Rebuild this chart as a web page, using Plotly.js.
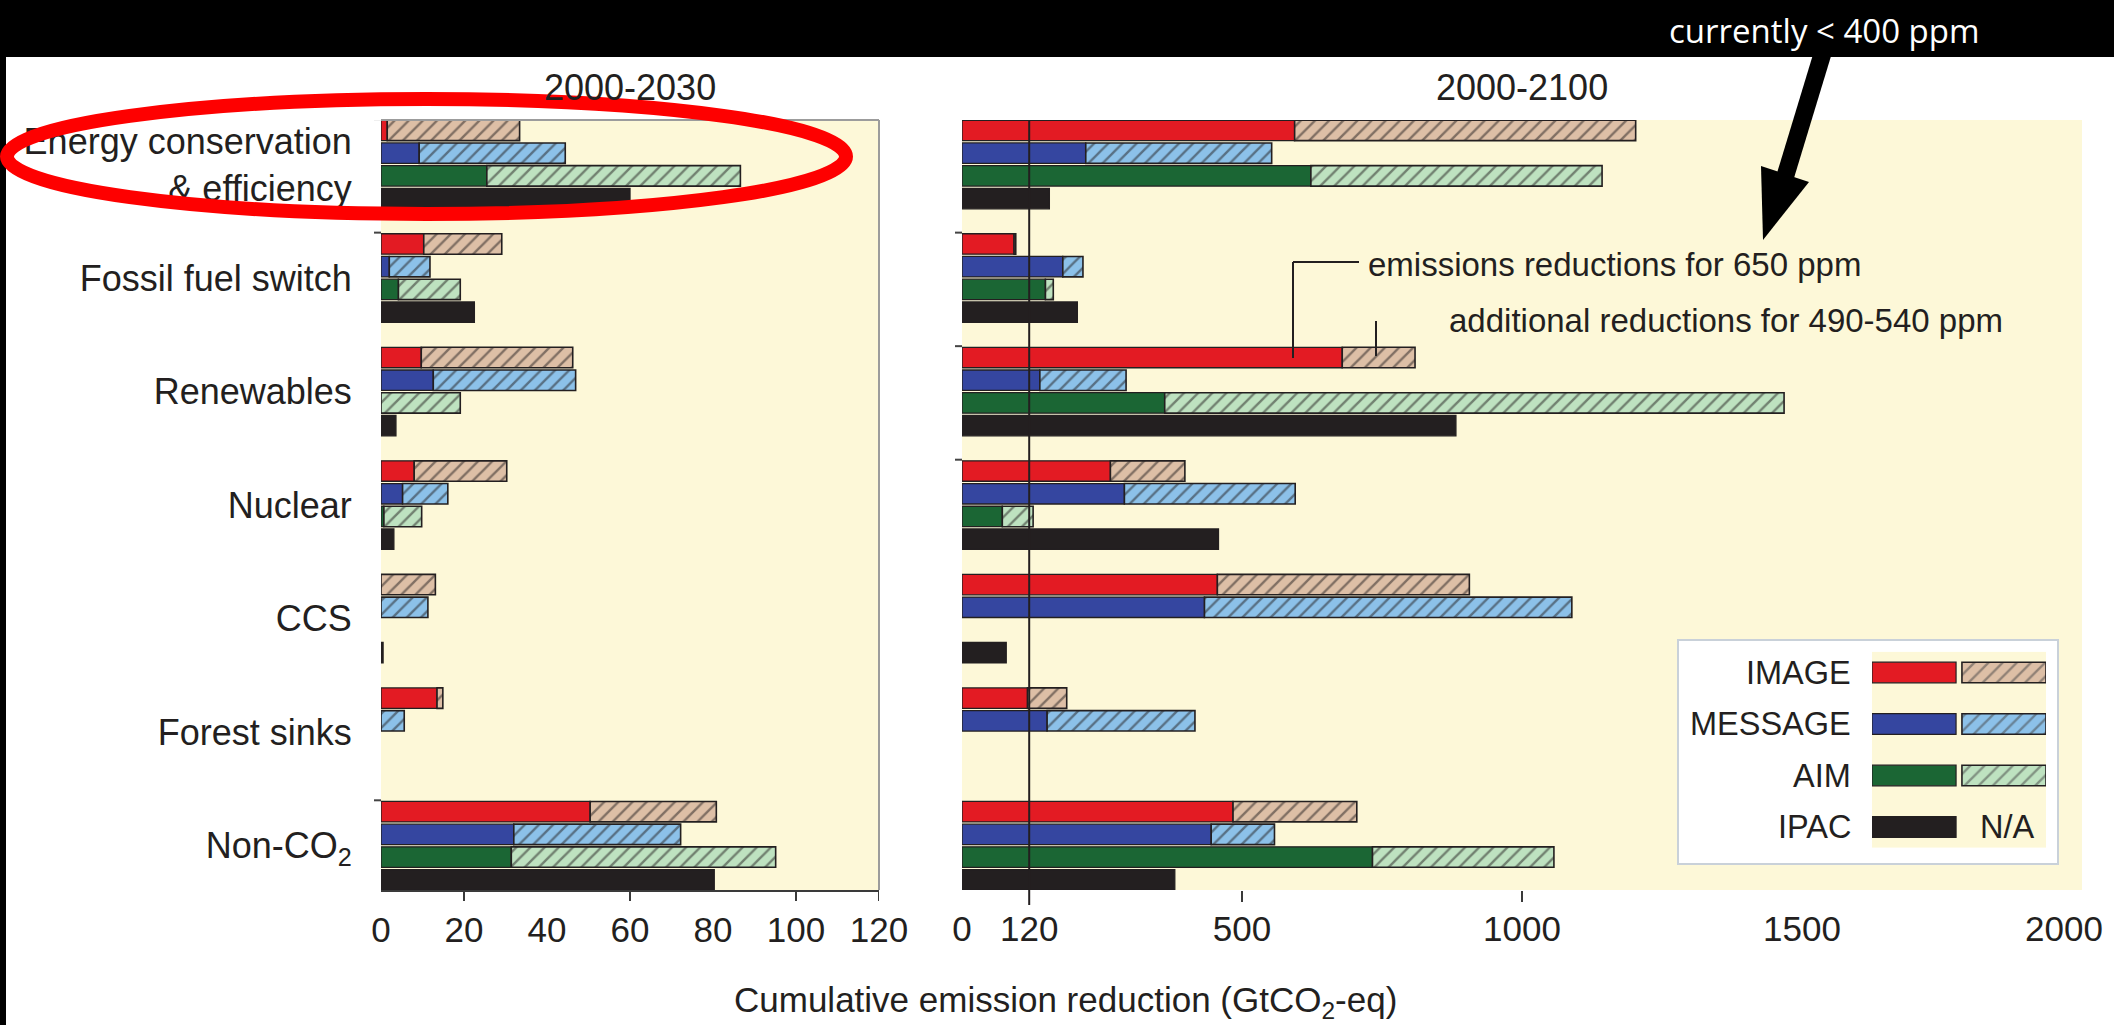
<!DOCTYPE html>
<html><head><meta charset="utf-8">
<script src="https://cdn.plot.ly/plotly-3.0.1.min.js"></script>
<style>html,body{margin:0;padding:0;background:#fff;overflow:hidden}#chart{width:2114px;height:1025px}</style>
</head><body><div id="chart"></div><script>
// ---------------- data ----------------
const categories = ['Energy conservation<br>& efficiency', 'Fossil fuel switch', 'Renewables', 'Nuclear', 'CCS', 'Forest sinks', 'Non-CO<sub>2</sub>'];
const models = ['IMAGE', 'MESSAGE', 'AIM', 'IPAC'];
const panelTitles = ['2000-2030', '2000-2100'];

// 2000-2030: reductions for 650 ppm (solid) and additional reductions for 490-540 ppm (hatched)
const image650_2030   = [1.5, 10.3, 9.7, 8.0, null, 13.5, 50.4];
const image490_2030   = [31.9, 18.8, 36.5, 22.3, 13.1, 1.4, 30.4];
const message650_2030 = [9.2, 2.0, 12.6, 5.2, null, null, 32.0];
const message490_2030 = [35.2, 9.8, 34.3, 10.9, 11.3, 5.6, 40.2];
const aim650_2030     = [25.5, 4.2, null, 0.7, null, null, 31.4];
const aim490_2030     = [61.1, 14.9, 19.1, 9.1, null, null, 63.7];
const ipac650_2030    = [60.0, 22.5, 3.6, 3.1, 0.5, null, 80.3];

// 2000-2100
const image650_2100   = [594, 93, 679, 265, 456, 117, 484];
const image490_2100   = [609, 3, 130, 133, 450, 70, 221];
const message650_2100 = [221, 180, 139, 290, 433, 152, 445];
const message490_2100 = [332, 36, 154, 305, 656, 264, 113];
const aim650_2100     = [623, 149, 362, 72, null, null, 733];
const aim490_2100     = [520, 14, 1106, 55, null, null, 324];
const ipac650_2100    = [156, 206, 882, 458, 79, null, 380];

const ticks2030 = [0, 20, 40, 60, 80, 100, 120];
const tickMarks2030 = [20, 60, 100, 120];
const ticks2100 = [0, 120, 500, 1000, 1500, 2000];
const tickMarks2100 = [500, 1000];
const threshold2100 = 120;

const xTitle = 'Cumulative emission reduction (GtCO<sub>2</sub>-eq)';
const note650 = 'emissions reductions for 650 ppm';
const note490 = 'additional reductions for 490-540 ppm';
const noteTop = 'currently &lt; 400 ppm';

// ---------------- styles ----------------
const W = 2114, H = 1025;
const px = x => x / W, py = y => 1 - y / H;
const FONT = 'Liberation Sans, Arial, Helvetica, sans-serif';
const INK = '#231F20';
const solidColors = ['#E31B23', '#3546A0', '#1B6634', '#231F20'];
const hatchColors = ['#DDBFA6', '#8CC1E9', '#BEE2C0', null];
const GROUP = 5;
const yRange = [33.45, -0.46];
const yDomain = [py(890), py(120)];

const solid2030 = [image650_2030, message650_2030, aim650_2030, ipac650_2030];
const hatch2030 = [image490_2030, message490_2030, aim490_2030, null];
const solid2100 = [image650_2100, message650_2100, aim650_2100, ipac650_2100];
const hatch2100 = [image490_2100, message490_2100, aim490_2100, null];

function yPos(m) { return categories.map((_, g) => g * GROUP + m); }
function pattern() { return {shape: '/', fillmode: 'overlay', fgcolor: INK, size: 10, solidity: 0.24}; }

const traces = [];
function addPanel(solids, hatches, xa, ya) {
  models.forEach((name, m) => {
    traces.push({type: 'bar', orientation: 'h', name: name, x: solids[m], y: yPos(m), base: 0,
      width: 0.9, xaxis: xa, yaxis: ya, hoverinfo: 'skip', showlegend: false,
      marker: {color: solidColors[m], line: {color: INK, width: 1.3}}});
    if (hatches[m]) {
      traces.push({type: 'bar', orientation: 'h', name: name + ' 490-540', x: hatches[m], y: yPos(m),
        base: solids[m].map(v => v || 0), width: 0.9, xaxis: xa, yaxis: ya, hoverinfo: 'skip', showlegend: false,
        marker: {color: hatchColors[m], pattern: pattern(), line: {color: INK, width: 1.6}}});
    }
  });
}
addPanel(solid2030, hatch2030, 'x', 'y');
addPanel(solid2100, hatch2100, 'x2', 'y2');
// empty trace that only carries the overlaid axis for the last 2000-2100 tick label
traces.push({type: 'bar', orientation: 'h', x: [], y: [], xaxis: 'x4', yaxis: 'y2', hoverinfo: 'skip', showlegend: false});

// legend swatches drawn as bars on a small hidden subplot
const legendRows = models.map((_, i) => i);
traces.push({type: 'bar', orientation: 'h', x: legendRows.map(() => 1), y: legendRows, base: 0, width: 0.4,
  xaxis: 'x3', yaxis: 'y3', hoverinfo: 'skip', showlegend: false,
  marker: {color: solidColors, line: {color: INK, width: 1.2}}});
traces.push({type: 'bar', orientation: 'h', x: [1, 1, 1], y: [0, 1, 2], base: 1.07, width: 0.4,
  xaxis: 'x3', yaxis: 'y3', hoverinfo: 'skip', showlegend: false,
  marker: {color: hatchColors.slice(0, 3), pattern: pattern(), line: {color: INK, width: 1.6}}});

const tickFont = {family: FONT, size: 35, color: INK};
const baseX = {showgrid: false, zeroline: false, fixedrange: true, ticks: 'outside', ticklen: 8,
  tickcolor: 'rgba(0,0,0,0)', tickfont: tickFont, ticklabeloverflow: 'allow'};

const shapes = [];
function line(x0, y0, x1, y1, color, width, extra) {
  shapes.push(Object.assign({type: 'line', xref: 'paper', yref: 'paper', x0: px(x0), y0: py(y0), x1: px(x1), y1: py(y1),
    line: {color: color, width: width}, layer: 'above'}, extra || {}));
}
// black frame of the slide
shapes.push({type: 'rect', xref: 'paper', yref: 'paper', x0: 0, x1: 1, y0: py(57), y1: 1, fillcolor: '#000', line: {width: 0}, layer: 'above'});
shapes.push({type: 'rect', xref: 'paper', yref: 'paper', x0: 0, x1: px(6), y0: 0, y1: 1, fillcolor: '#000', line: {width: 0}, layer: 'above'});
// left panel frame (top and right)
line(381, 120, 879, 120, '#9C9C9C', 2);
line(879, 120, 879, 890, '#9C9C9C', 2);
// x tick marks
tickMarks2030.forEach(v => shapes.push({type: 'line', xref: 'x', yref: 'paper', x0: v, x1: v, y0: py(890), y1: py(901), line: {color: '#3a3a3a', width: 2}}));
tickMarks2100.forEach(v => shapes.push({type: 'line', xref: 'x2', yref: 'paper', x0: v, x1: v, y0: py(891), y1: py(902), line: {color: '#3a3a3a', width: 2}}));
// small group ticks
[0, 1, 6].forEach(g => shapes.push({type: 'line', xref: 'paper', yref: 'y', x0: px(374), x1: px(381), y0: g * GROUP - 0.5, y1: g * GROUP - 0.5, line: {color: '#444', width: 2}}));
[1, 2, 3].forEach(g => shapes.push({type: 'line', xref: 'paper', yref: 'y2', x0: px(955), x1: px(962), y0: g * GROUP - 0.5, y1: g * GROUP - 0.5, line: {color: '#444', width: 2}}));
// 120 Gt reference line
shapes.push({type: 'line', xref: 'x2', yref: 'paper', x0: threshold2100, x1: threshold2100, y0: py(121), y1: py(905), line: {color: INK, width: 2}, layer: 'above'});
// leader lines
line(1293, 358, 1293, 262, INK, 2);
line(1293, 262, 1359, 262, INK, 2);
line(1376, 321, 1376, 356, INK, 2);
// legend box
shapes.push({type: 'rect', xref: 'paper', yref: 'paper', x0: px(1678), x1: px(2058), y0: py(864), y1: py(640), fillcolor: '#FFFFFF', line: {color: '#C9D1D9', width: 2}, layer: 'below'});
// arrow
function path(pts) { return 'M' + pts.map(p => px(p[0]) + ',' + py(p[1])).join(' L') + ' Z'; }
shapes.push({type: 'path', xref: 'paper', yref: 'paper', path: path([[1818, 38], [1835, 43], [1794, 178], [1777, 173]]), fillcolor: '#000', line: {width: 0}, layer: 'above'});
shapes.push({type: 'path', xref: 'paper', yref: 'paper', path: path([[1761, 166], [1809, 182], [1763, 240]]), fillcolor: '#000', line: {width: 0}, layer: 'above'});
// red highlight ellipse
shapes.push({type: 'circle', xref: 'paper', yref: 'paper', x0: px(7), x1: px(846), y0: py(214), y1: py(99), line: {color: '#FE0000', width: 14}, fillcolor: 'rgba(0,0,0,0)', layer: 'above'});

const annotations = [];
function label(text, x, y, size, anchor, extra) {
  annotations.push(Object.assign({text: text, xref: 'paper', yref: 'paper', x: px(x), y: py(y), xanchor: anchor, yanchor: 'middle',
    showarrow: false, font: {family: FONT, size: size, color: INK}}, extra || {}));
}
annotations.push({text: panelTitles[0], xref: 'x domain', yref: 'paper', x: 0.5, y: py(88), xanchor: 'center', yanchor: 'middle', showarrow: false, font: {family: FONT, size: 36, color: INK}});
annotations.push({text: panelTitles[1], xref: 'x2 domain', yref: 'paper', x: 0.5, y: py(88), xanchor: 'center', yanchor: 'middle', showarrow: false, font: {family: FONT, size: 36, color: INK}});
label(xTitle, 1065, 1002, 35, 'center');
label(note650, 1366, 264, 33, 'left');
label(note490, 1447, 320, 33, 'left');
annotations.push({text: noteTop, xref: 'paper', yref: 'paper', x: px(1824), y: py(30), xanchor: 'center', yanchor: 'middle', showarrow: false, font: {family: 'Open Sans, Noto Sans, sans-serif', size: 33, color: '#FFFFFF'}});
models.forEach((name, i) => annotations.push({text: name, xref: 'paper', yref: 'y3', x: px(1853), y: i, xanchor: 'right', yanchor: 'middle', showarrow: false, font: {family: FONT, size: 32.5, color: INK}}));
annotations.push({text: 'N/A', xref: 'paper', yref: 'y3', x: px(2007), y: 3, xanchor: 'center', yanchor: 'middle', showarrow: false, font: {family: FONT, size: 32.5, color: INK}});

const lastTick2100 = ticks2100[ticks2100.length - 1];
const layout = {
  width: W, height: H, margin: {l: 0, r: 0, t: 0, b: 0},
  paper_bgcolor: '#FFFFFF', plot_bgcolor: '#FDF8D8',
  barmode: 'overlay', bargap: 0, showlegend: false,
  font: {family: FONT, color: INK},
  xaxis: Object.assign({}, baseX, {domain: [px(381), px(879)], range: [0, 120], tickmode: 'array', tickvals: ticks2030,
    showline: true, linecolor: '#3a3a3a', linewidth: 2, anchor: 'y'}),
  xaxis2: Object.assign({}, baseX, {domain: [px(962), px(2082)], range: [0, 2000], tickmode: 'array',
    tickvals: ticks2100.filter(v => v !== lastTick2100), showline: false, anchor: 'y2'}),
  // last label of the 2000-2100 axis, pulled inward as in the original figure
  xaxis4: Object.assign({}, baseX, {overlaying: 'x2', range: [0, 2000], tickmode: 'array', tickvals: [lastTick2100],
    ticktext: [String(lastTick2100)], ticklabelshift: -18, showline: false, anchor: 'y2', side: 'bottom'}),
  yaxis: {domain: yDomain, range: yRange, tickmode: 'array', tickvals: categories.map((_, g) => g * GROUP + 1.5), ticktext: categories,
    ticks: 'outside', ticklen: 21, tickcolor: 'rgba(0,0,0,0)', showline: false, showgrid: false, zeroline: false, fixedrange: true,
    tickfont: {family: FONT, size: 36, color: INK}, anchor: 'x'},
  yaxis2: {domain: yDomain, range: yRange, showticklabels: false, ticks: '', showline: false, showgrid: false, zeroline: false, fixedrange: true, anchor: 'x2'},
  xaxis3: {domain: [px(1872), px(2046)], range: [0, 2.07], visible: false, fixedrange: true, anchor: 'y3'},
  yaxis3: {domain: [py(847.6), py(651.9)], range: [3.4, -0.4], visible: false, fixedrange: true, anchor: 'x3'},
  shapes: shapes, annotations: annotations
};

Plotly.newPlot('chart', traces, layout, {displayModeBar: false, staticPlot: true});
</script></body></html>
